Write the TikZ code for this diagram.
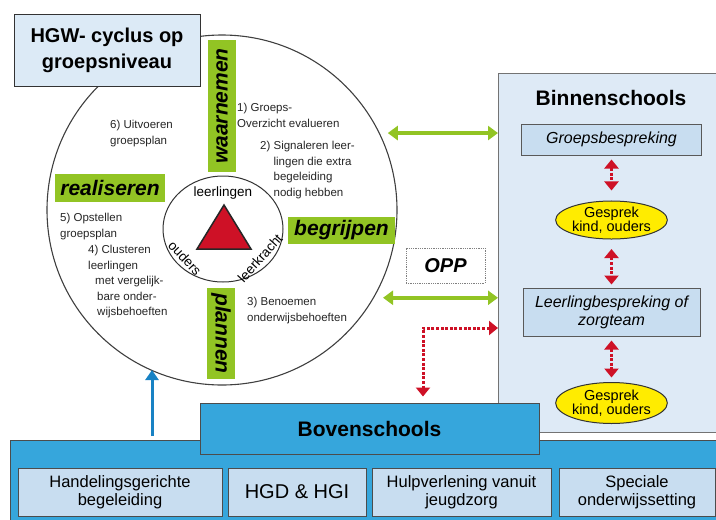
\documentclass[tikz,border=0pt]{standalone}
\usepackage{fontspec}
\setmainfont{Liberation Sans}
\usetikzlibrary{arrows.meta}
\usetikzlibrary{positioning}
\usetikzlibrary{shapes.geometric}

\definecolor{hgwgreen}{RGB}{146,196,36}
\definecolor{hgwred}{RGB}{206,17,38}
\definecolor{hgwyellow}{RGB}{255,236,0}
\definecolor{bandblue}{RGB}{54,166,220}
\definecolor{liftblue}{RGB}{24,130,196}
\definecolor{panelblue}{RGB}{222,234,246}
\definecolor{boxblue}{RGB}{200,221,240}
\definecolor{titleblue}{RGB}{220,234,246}

\begin{document}
\begin{tikzpicture}[x=1pt,y=-1pt,
    green label/.style={fill=hgwgreen,inner sep=0pt,font=\fontsize{21}{21}\selectfont\bfseries\itshape},
    step text/.style={anchor=north west,align=left,inner sep=0pt,font=\fontsize{11.5}{15.5}\selectfont,text=black!85},
    inner box/.style={draw=black!65,fill=boxblue,line width=1pt,inner sep=0pt,align=center,font=\fontsize{16}{18}\selectfont\itshape},
    talk node/.style={ellipse,draw=black!80,fill=hgwyellow,line width=1pt,inner sep=0pt,align=center,font=\fontsize{14.5}{13}\selectfont},
    band box/.style={draw=black!70,fill=boxblue,line width=1pt,inner sep=0pt,align=center,minimum height=48pt,font=\fontsize{16.5}{18}\selectfont},
    red link/.style={draw=hgwred,line width=3pt,dash pattern=on 3pt off 1.6pt,{Triangle[width=14pt,length=9pt]}-{Triangle[width=14pt,length=9pt]}},
    green link/.style={draw=hgwgreen,line width=3.5pt,{Triangle[width=14pt,length=10pt]}-{Triangle[width=14pt,length=10pt]}},
    blue link/.style={draw=liftblue,line width=3pt,-{Triangle[width=13pt,length=10pt]}}]

  \useasboundingbox (0,0) rectangle (716,520);

  \node[circle,draw=black!75,fill=white,line width=1.1pt,minimum size=350pt,inner sep=0pt] (cyc) at (222,210) {};
  \node[draw=black!80,fill=titleblue,line width=1pt,minimum width=186pt,minimum height=72pt,align=center,
        font=\fontsize{20}{26}\selectfont\bfseries] (title) at (107,50) {HGW- cyclus op\\groepsniveau};
  \node[ellipse,draw=black!80,line width=1pt,minimum width=120pt,minimum height=106pt] (core) at (223,229) {};
  \filldraw[fill=hgwred,draw=black!85,line width=1.5pt] (224,205) -- (197,249) -- (251,249) -- cycle;
  \node[font=\fontsize{13.5}{13.5}\selectfont] (pupils) at (223,193) {leerlingen};
  \node[font=\fontsize{13.5}{13.5}\selectfont,rotate=-47] (parents) at (185,258) {ouders};
  \node[font=\fontsize{13.5}{13.5}\selectfont,rotate=48] (teacher) at (260,258) {leerkracht};

  \node[green label,rotate=90,minimum width=132pt,minimum height=28pt] (waar) at (222,106) {waarnemen};
  \node[green label,minimum width=110pt,minimum height=28pt] (real) at (110,188) {realiseren};
  \node[green label,minimum width=107pt,minimum height=27pt] (begr) at (341.5,230.5) {begrijpen};
  \node[green label,rotate=-90,minimum width=91pt,minimum height=28pt] (plan) at (221,333.5) {plannen};

  \node[step text] (st6) at (110,120) {6) Uitvoeren\\groepsplan};
  \node[step text] (st1) at (237,103) {1) Groeps-\\Overzicht evalueren};
  \node[step text] (st2) at (260,141) {2) Signaleren leer-\\\hphantom{2) }lingen die extra\\\hphantom{2) }begeleiding\\\hphantom{2) }nodig hebben};
  \node[step text] (st5) at (60,213) {5) Opstellen\\groepsplan};
  \node[step text] (st4) at (88,245) {4) Clusteren\\leerlingen\\\hspace*{7pt}met vergelijk-\\\hspace*{9pt}bare onder-\\\hspace*{9pt}wijsbehoeften};
  \node[step text] (st3) at (247,297) {3) Benoemen\\onderwijsbehoeften};

  \node[draw=black!55,fill=panelblue,line width=1pt,anchor=north west,minimum width=222pt,minimum height=359pt,inner sep=0pt] (binnen) at (498,73) {};
  \node[font=\fontsize{21}{21}\selectfont\bfseries] (binlbl) at (611,98) {Binnenschools};
  \node[inner box,minimum width=180pt,minimum height=31pt] (grp) at (611.5,139.5) {Groepsbespreking};
  \node[talk node,minimum width=103pt,minimum height=35pt] (talk1) at (611.5,220) {Gesprek\\kind, ouders};
  \node[inner box,minimum width=177pt,minimum height=48pt] (llb) at (611.5,312) {Leerlingbespreking of\\zorgteam};
  \node[talk node,minimum width=105pt,minimum height=41pt] (talk2) at (611.5,403) {Gesprek\\kind, ouders};

  \node[draw=black!50,densely dotted,line width=0.8pt,minimum width=79pt,minimum height=35pt,
        font=\fontsize{20}{20}\selectfont\bfseries\itshape] (opp) at (445.5,265.5) {OPP};

  \node[draw=black!70,fill=bandblue,line width=1pt,anchor=north west,minimum width=720pt,minimum height=100pt,inner sep=0pt] (band) at (10,440) {};
  \node[draw=black!70,fill=bandblue,line width=1pt,minimum width=339pt,minimum height=51pt,
        font=\fontsize{21}{21}\selectfont\bfseries] (boven) at (369.5,428.5) {Bovenschools};
  \node[band box,minimum width=204pt] (hgb) at (120,492) {Handelingsgerichte\\begeleiding};
  \node[band box,minimum width=138pt,right=5pt of hgb,font=\fontsize{20}{20}\selectfont] (hgd) {HGD \& HGI};
  \node[band box,minimum width=179pt,right=5pt of hgd] (hulp) {Hulpverlening vanuit\\jeugdzorg};
  \node[band box,minimum width=156pt,right=7pt of hulp] (spec) {Speciale\\onderwijssetting};

  \coordinate (bend) at (423,328);
  \coordinate (lift) at (152,370);

  \draw[green link] ([xshift=8pt]cyc.26) -- (binnen.west |- cyc.26);
  \draw[green link] ([xshift=9pt]cyc.-30) -- (binnen.west |- cyc.-30);
  \draw[red link,shorten <=4pt,shorten >=10pt] (grp) -- (talk1);
  \draw[red link,shorten <=9.5pt,shorten >=3pt] (talk1) -- (llb);
  \draw[red link,shorten <=4pt,shorten >=4.5pt] (llb) -- (talk2);
  \draw[red link,shorten >=6pt] (binnen.west |- bend) -| (boven.north -| bend);
  \draw[blue link,shorten <=4pt] (band.north -| lift) -- (lift);
\end{tikzpicture}
\end{document}
